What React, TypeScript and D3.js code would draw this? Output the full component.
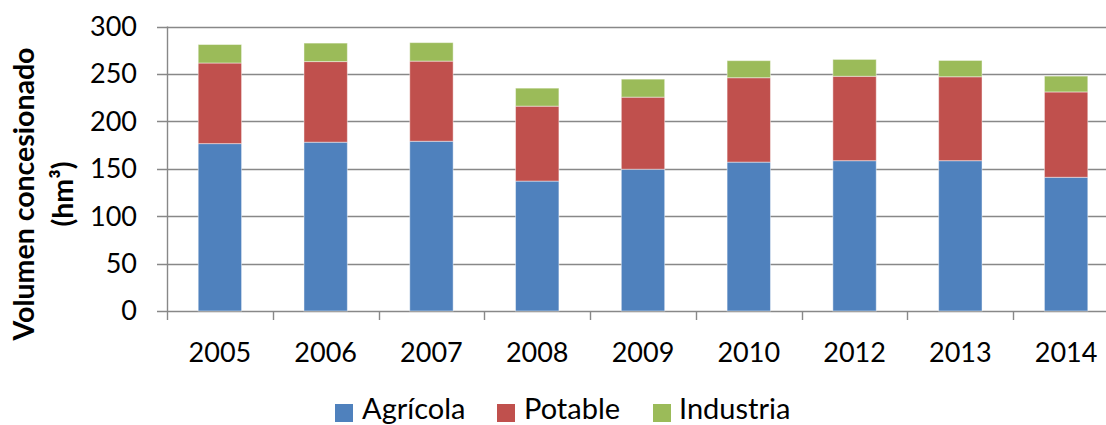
import React from "react";
import * as d3 from "d3";

const years = ["2005", "2006", "2007", "2008", "2009", "2010", "2012", "2013", "2014"];
const agricola = [176.5, 178, 179, 137, 149.5, 157, 158.5, 158.5, 141];
const potable = [85, 85, 84.5, 79, 76, 89, 89, 88.5, 90];
const industria = [19.5, 19.5, 19.5, 19, 19, 18, 17.8, 17.2, 16.7];
const seriesNames = ["Agrícola", "Potable", "Industria"];
const seriesColors = ["#4F81BD", "#C0504D", "#9BBB59"];
const yTicks = [0, 50, 100, 150, 200, 250, 300];

const W = 1106;
const H = 425;
const FONT = "Lato, 'Open Sans', sans-serif";

export default function App() {
  const x = d3
    .scaleBand<string>()
    .domain(years)
    .range([167, 1119])
    .paddingInner(0.59)
    .paddingOuter(0.295);
  const y = d3.scaleLinear().domain([0, 300]).range([311, 26.5]);
  const step = x.step();
  const x0 = 167;

  const rows = years.map((yr, i) => ({
    year: yr,
    Agrícola: agricola[i],
    Potable: potable[i],
    Industria: industria[i],
  }));
  const stack = d3.stack<any>().keys(seriesNames)(rows);

  const legendItems = [
    { name: seriesNames[0], sq: 335, tx: 362 },
    { name: seriesNames[1], sq: 497, tx: 524 },
    { name: seriesNames[2], sq: 653, tx: 679 },
  ];

  return (
    <svg
      width={W}
      height={H}
      style={{ position: "absolute", left: 0, top: 0, background: "#fff" }}
      fontFamily={FONT}
    >
      {/* gridlines */}
      {yTicks.map((t) => (
        <line
          key={"g" + t}
          x1={157}
          x2={W}
          y1={Math.round(y(t)) + 0.5}
          y2={Math.round(y(t)) + 0.5}
          stroke="#888888"
          strokeWidth={1.4}
        />
      ))}
      {/* y axis line */}
      <line x1={x0 + 0.5} x2={x0 + 0.5} y1={y(300)} y2={y(0) + 1} stroke="#888888" strokeWidth={1.4} />
      {/* x axis tick marks */}
      {d3.range(years.length + 1).map((i) => (
        <line
          key={"t" + i}
          x1={Math.round(x0 + i * step) + 0.5}
          x2={Math.round(x0 + i * step) + 0.5}
          y1={y(0)}
          y2={y(0) + 9}
          stroke="#888888"
          strokeWidth={1.4}
        />
      ))}
      {/* bars */}
      {stack.map((s, si) => (
        <g key={s.key} fill={seriesColors[si]}>
          {s.map((d, i) => (
            <rect
              key={i}
              x={x(years[i])}
              width={x.bandwidth()}
              y={y(d[1])}
              height={y(d[0]) - y(d[1])}
              stroke="rgba(255,255,255,0.45)"
              strokeWidth={1}
            />
          ))}
        </g>
      ))}
      {/* y tick labels */}
      {yTicks.map((t) => (
        <text
          key={"yl" + t}
          x={137}
          y={y(t)}
          dy="0.35em"
          textAnchor="end"
          fontSize={27}
          fill="#000"
        >
          {t}
        </text>
      ))}
      {/* x tick labels */}
      {years.map((yr) => (
        <text
          key={"xl" + yr}
          x={(x(yr) as number) + x.bandwidth() / 2}
          y={362}
          textAnchor="middle"
          fontSize={27}
          fill="#000"
        >
          {yr}
        </text>
      ))}
      {/* y axis title */}
      <g transform="translate(34,194) rotate(-90)">
        <text x={0} y={0} textAnchor="middle" fontSize={28.5} fontWeight="bold" fill="#000">
          Volumen concesionado
        </text>
        <text x={0} y={39} textAnchor="middle" fontSize={28.5} fontWeight="bold" fill="#000">
          (hm³)
        </text>
      </g>
      {/* legend */}
      {legendItems.map((it, i) => (
        <g key={it.name}>
          <rect x={it.sq} y={404} width={18} height={18} fill={seriesColors[i]} />
          <text x={it.tx} y={419} fontSize={29} fill="#000">
            {it.name}
          </text>
        </g>
      ))}
    </svg>
  );
}
